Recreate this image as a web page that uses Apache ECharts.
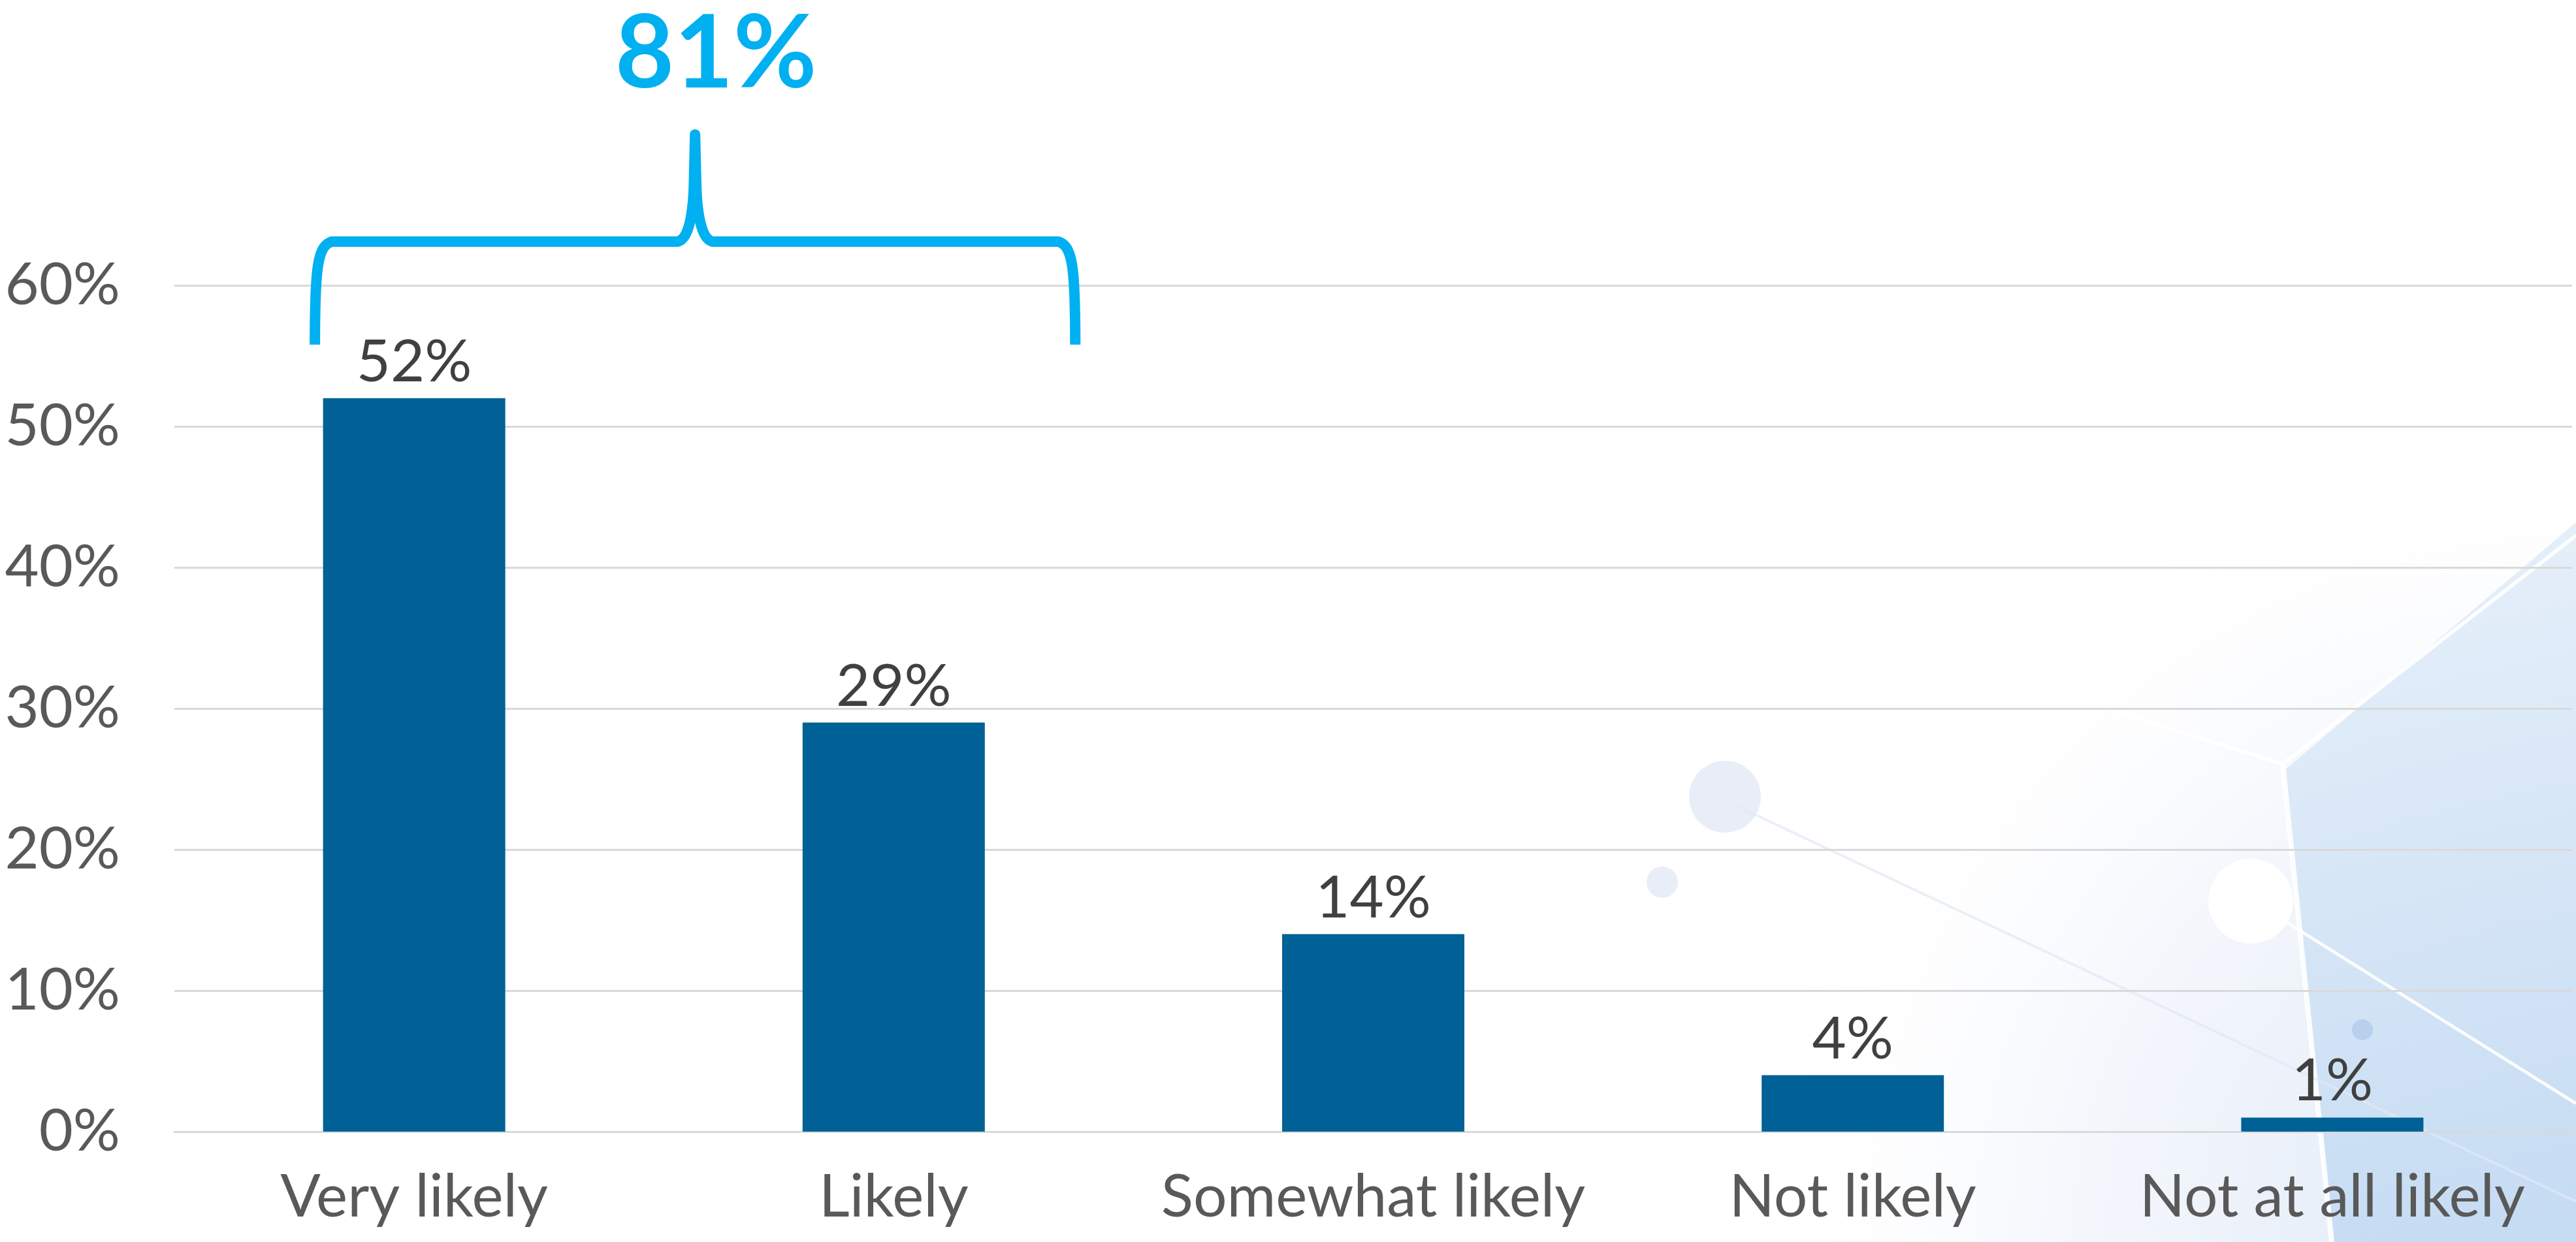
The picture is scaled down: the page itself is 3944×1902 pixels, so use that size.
<!DOCTYPE html>
<html>
<head>
<meta charset="utf-8">
<script src="https://cdn.jsdelivr.net/npm/echarts@6/dist/echarts.min.js"></script>
<style>
html,body{margin:0;padding:0;background:#ffffff;}
#chart{width:3944px;height:1902px;}
</style>
</head>
<body>
<div id="chart"></div>
<script>
const categories = ['Very likely', 'Likely', 'Somewhat likely', 'Not likely', 'Not at all likely'];
const values = [52, 29, 14, 4, 1];
const yTicks = [0, 10, 20, 30, 40, 50, 60];
const braceTotal = '81%';

const FONT = 'Lato';
const chart = echarts.init(document.getElementById('chart'), null, {renderer: 'canvas'});

const bgGraphics = [
  {type: 'rect', z: -10, silent: true,
   shape: {x: 1800, y: 500, width: 2144, height: 1402},
   style: {fill: {type: 'radial', x: 1, y: 1, r: 0.9, colorStops: [
     {offset: 0, color: 'rgba(215,228,245,0.9)'}, {offset: 0.6, color: 'rgba(236,241,250,0.6)'}, {offset: 1, color: 'rgba(255,255,255,0)'}]}}},
  {type: 'polygon', z: -9, silent: true,
   shape: {points: [[3495,1182],[3944,800],[3944,1902],[3570,1902]]},
   style: {fill: {type: 'linear', x: 0, y: 0, x2: 0.6, y2: 1, colorStops: [
     {offset: 0, color: 'rgba(226,237,249,0.8)'}, {offset: 1, color: '#C6DCF3'}]}}},
  {type: 'polyline', z: -8, silent: true,
   shape: {points: [[2480,850],[3495,1170],[3944,820]]},
   style: {stroke: 'rgba(255,255,255,0.9)', lineWidth: 6, fill: null}},
  {type: 'polyline', z: -8, silent: true,
   shape: {points: [[3495,1170],[3570,1902]]},
   style: {stroke: 'rgba(255,255,255,0.9)', lineWidth: 8, fill: null}},
  {type: 'polyline', z: -8, silent: true,
   shape: {points: [[2650,1230],[3944,1840]]},
   style: {stroke: 'rgba(225,232,245,0.7)', lineWidth: 4, fill: null}},
  {type: 'polyline', z: -8, silent: true,
   shape: {points: [[3446,1378],[3944,1690]]},
   style: {stroke: 'rgba(255,255,255,0.9)', lineWidth: 5, fill: null}},
  {type: 'circle', z: -7, silent: true, shape: {cx: 2641, cy: 1220, r: 55}, style: {fill: 'rgba(228,232,246,0.8)'}},
  {type: 'circle', z: -7, silent: true, shape: {cx: 2545, cy: 1351, r: 24}, style: {fill: 'rgba(228,232,246,0.8)'}},
  {type: 'circle', z: -7, silent: true, shape: {cx: 3446, cy: 1380, r: 65}, style: {fill: '#ffffff'}},
  {type: 'circle', z: -7, silent: true, shape: {cx: 3617, cy: 1577, r: 16}, style: {fill: '#B8D0EE'}}
];

chart.setOption({
  backgroundColor: '#ffffff',
  animation: false,
  grid: {left: 267, right: 6, top: 437, bottom: 169, containLabel: false},
  xAxis: {
    type: 'category',
    data: categories,
    axisLine: {show: true, lineStyle: {color: '#D9D9D9', width: 3}},
    axisTick: {show: false},
    axisLabel: {color: '#595959', fontSize: 91, fontFamily: FONT, margin: 55, interval: 0}
  },
  yAxis: {
    type: 'value',
    min: yTicks[0], max: yTicks[yTicks.length - 1], interval: 10,
    axisLine: {show: false},
    axisTick: {show: false},
    splitLine: {lineStyle: {color: '#D9D9D9', width: 3}},
    axisLabel: {color: '#595959', fontSize: 90, fontFamily: FONT, margin: 83,
      formatter: v => v + '%'}
  },
  series: [{
    type: 'bar',
    data: values,
    barWidth: '38%',
    itemStyle: {color: '#006196'},
    label: {show: true, position: 'top', distance: 10, color: '#404040',
      fontSize: 90, fontFamily: FONT, formatter: p => p.value + '%'}
  }],
  graphic: bgGraphics
});

// brace annotation positioned from the axes
const c0 = chart.convertToPixel({xAxisIndex: 0}, categories[0]);
const c1 = chart.convertToPixel({xAxisIndex: 0}, categories[1]);
const yH = chart.convertToPixel({yAxisIndex: 0}, 63.1);
const yB = chart.convertToPixel({yAxisIndex: 0}, 55.8);
const yP = chart.convertToPixel({yAxisIndex: 0}, 70.7);
const x0 = c0 - 152, x1 = c1 + 278, cx = (x0 + x1) / 2;
const bs = {stroke: '#00B0F0', lineWidth: 16, fill: null, lineCap: 'round', lineJoin: 'round'};
const brace = [
  {type: 'bezierCurve', shape: {x1: x0, y1: yB, cpx1: x0, cpy1: yH + 40, cpx2: x0 + 4, cpy2: yH + 6, x2: x0 + 26, y2: yH}},
  {type: 'line', shape: {x1: x0 + 26, y1: yH, x2: cx - 28, y2: yH}},
  {type: 'bezierCurve', shape: {x1: cx - 28, y1: yH, cpx1: cx - 10, cpy1: yH - 2, cpx2: cx - 4, cpy2: yH - 40, x2: cx - 2, y2: yH - 80}},
  {type: 'polyline', shape: {points: [[cx - 2, yH - 80], [cx, yP], [cx + 2, yH - 80]]}},
  {type: 'bezierCurve', shape: {x1: cx + 2, y1: yH - 80, cpx1: cx + 4, cpy1: yH - 40, cpx2: cx + 10, cpy2: yH - 2, x2: cx + 28, y2: yH}},
  {type: 'line', shape: {x1: cx + 28, y1: yH, x2: x1 - 26, y2: yH}},
  {type: 'bezierCurve', shape: {x1: x1 - 26, y1: yH, cpx1: x1 - 4, cpy1: yH + 6, cpx2: x1, cpy2: yH + 40, x2: x1, y2: yB}}
].map(e => Object.assign(e, {z: 100, silent: true, style: Object.assign({}, bs)}));
brace[0].style.lineCap = 'butt';
brace[6].style.lineCap = 'butt';

chart.setOption({
  graphic: bgGraphics.concat(brace).concat([
    {type: 'text', z: 100, silent: true, x: cx + 32, y: 84,
     style: {text: braceTotal, fill: '#00B0F0', font: `bold 156px ${FONT}`, align: 'center', verticalAlign: 'middle'}}
  ])
});
</script>
</body>
</html>
